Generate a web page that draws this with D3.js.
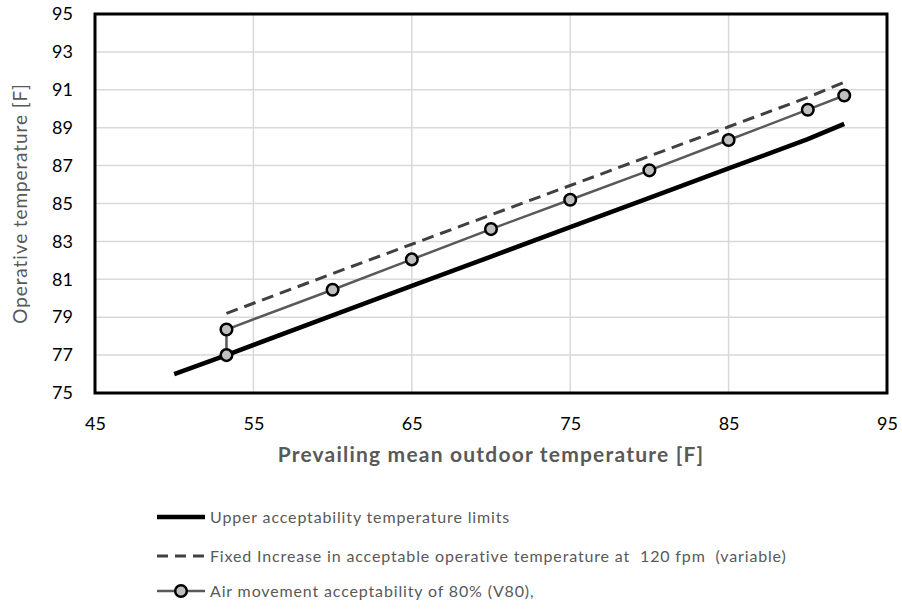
<!DOCTYPE html>
<html><head><meta charset="utf-8">
<script src="https://cdn.jsdelivr.net/npm/d3@7"></script>
<style>body{margin:0;background:#fff;} svg{display:block;font-family:Lato, "Open Sans", sans-serif;} text{white-space:pre;}</style>
</head><body>
<svg id="c" width="902" height="609"></svg>
<script>
const xTicks = [45,55,65,75,85,95];
const yTicks = [75,77,79,81,83,85,87,89,91,93,95];
const upperX = [50,53.3,60,65,70,75,80,85,90,92.3];
const upperY = [76.0,77.0,79.1,80.65,82.2,83.75,85.3,86.85,88.4,89.2];
const fixedX = [53.3,60,65,70,75,80,85,90,92.3];
const fixedY = [79.2,81.3,82.85,84.4,85.95,87.5,89.05,90.6,91.4];
const v80X = [53.3,53.3,60,65,70,75,80,85,90,92.3];
const v80Y = [77.0,78.35,80.45,82.05,83.65,85.2,86.75,88.35,89.95,90.7];
const legendLabels = ["Upper acceptability temperature limits",
  "Fixed Increase in acceptable operative temperature at  120 fpm  (variable)",
  "Air movement acceptability of 80% (V80),"];
const xTitle = "Prevailing mean outdoor temperature [F]";
const yTitle = "Operative temperature [F]";

const svg = d3.select("#c");
const L=95,R=887,T=14,B=393;
const x = d3.scaleLinear().domain([45,95]).range([L,R]);
const y = d3.scaleLinear().domain([75,95]).range([B,T]);

// gridlines
svg.append("g").selectAll("line").data(xTicks.slice(1,-1)).join("line")
  .attr("x1",d=>x(d)).attr("x2",d=>x(d)).attr("y1",T).attr("y2",B)
  .attr("stroke","#d9d9d9").attr("stroke-width",1.5);
svg.append("g").selectAll("line").data(yTicks.slice(1,-1)).join("line")
  .attr("y1",d=>y(d)).attr("y2",d=>y(d)).attr("x1",L).attr("x2",R)
  .attr("stroke","#d9d9d9").attr("stroke-width",1.5);

// axes labels via d3 axes
const xAxis = svg.append("g").attr("transform",`translate(0,${B})`)
  .call(d3.axisBottom(x).tickValues(xTicks).tickSize(0).tickPadding(24));
xAxis.select(".domain").remove();
xAxis.selectAll("text").attr("font-size",18).attr("fill","#000").attr("font-family","Lato");
const yAxis = svg.append("g").attr("transform",`translate(${L},0)`)
  .call(d3.axisLeft(y).tickValues(yTicks).tickSize(0).tickPadding(22));
yAxis.select(".domain").remove();
yAxis.selectAll("text").attr("font-size",18).attr("fill","#000").attr("font-family","Lato");

// series
const line = d3.line().x(d=>x(d[0])).y(d=>y(d[1]));
const up = upperX.map((v,i)=>[v,upperY[i]]);
const fx = fixedX.map((v,i)=>[v,fixedY[i]]);
const v8 = v80X.map((v,i)=>[v,v80Y[i]]);
svg.append("path").attr("d",line(up)).attr("fill","none").attr("stroke","#000").attr("stroke-width",4.5);
svg.append("path").attr("d",line(fx)).attr("fill","none").attr("stroke","#404040").attr("stroke-width",3).attr("stroke-dasharray","12,7");
svg.append("path").attr("d",line(v8)).attr("fill","none").attr("stroke","#595959").attr("stroke-width",2.5);
svg.append("g").selectAll("circle").data(v8).join("circle")
  .attr("cx",d=>x(d[0])).attr("cy",d=>y(d[1])).attr("r",5.8)
  .attr("fill","#bfbfbf").attr("stroke","#000").attr("stroke-width",2.5);

// border
svg.append("rect").attr("x",L).attr("y",T).attr("width",R-L).attr("height",B-T)
  .attr("fill","none").attr("stroke","#000").attr("stroke-width",3);

// titles
svg.append("text").attr("x",(L+R)/2).attr("y",462).attr("text-anchor","middle")
  .attr("font-size",21).attr("font-weight","bold").attr("letter-spacing",1.2).attr("fill","#595959").text(xTitle);
svg.append("text").attr("transform",`translate(27,${(T+B)/2}) rotate(-90)`).attr("text-anchor","middle")
  .attr("font-size",19).attr("letter-spacing",0.9).attr("fill","#595959").text(yTitle);

// legend
const ly = [517,556,591];
const lg = svg.append("g");
lg.append("line").attr("x1",157).attr("x2",205).attr("y1",ly[0]).attr("y2",ly[0]).attr("stroke","#000").attr("stroke-width",4.5);
lg.append("line").attr("x1",157).attr("x2",205).attr("y1",ly[1]).attr("y2",ly[1]).attr("stroke","#404040").attr("stroke-width",3).attr("stroke-dasharray","11,7");
lg.append("line").attr("x1",157).attr("x2",205).attr("y1",ly[2]).attr("y2",ly[2]).attr("stroke","#595959").attr("stroke-width",2.5);
lg.append("circle").attr("cx",181).attr("cy",ly[2]).attr("r",5.8).attr("fill","#bfbfbf").attr("stroke","#000").attr("stroke-width",2.5);
lg.selectAll("text").data(legendLabels).join("text")
  .attr("x",210).attr("y",(d,i)=>ly[i]+5.5).attr("font-size",16).attr("letter-spacing",0.85).attr("fill","#595959").text(d=>d);
</script>
</body></html>
